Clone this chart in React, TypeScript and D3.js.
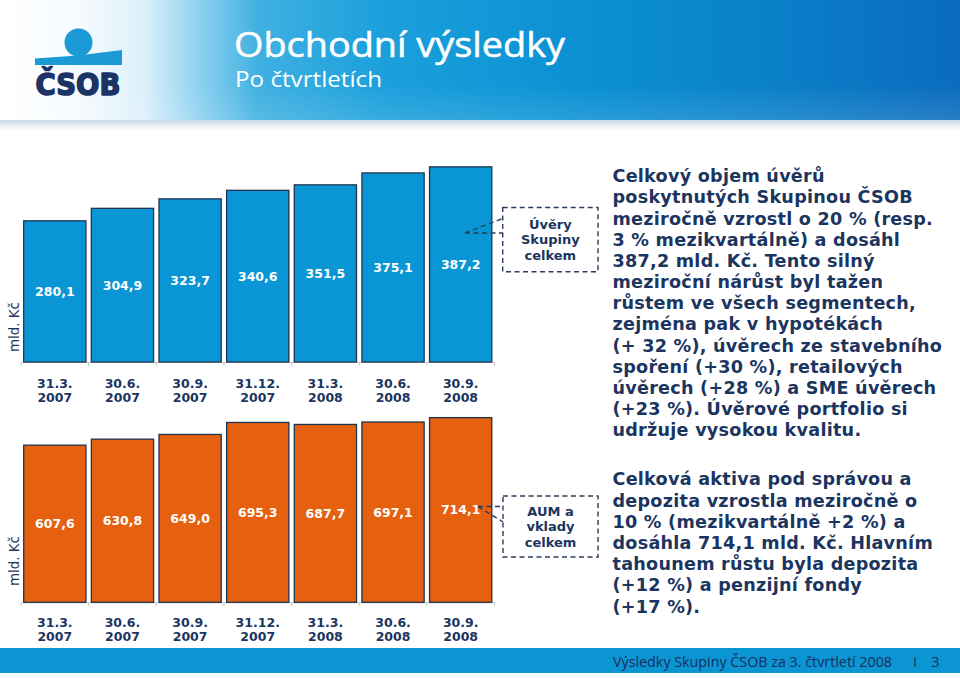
import React from "react";
import * as d3 from "d3";

const categoryDates = ["31.3.", "30.6.", "30.9.", "31.12.", "31.3.", "30.6.", "30.9."];
const categoryYears = ["2007", "2007", "2007", "2007", "2008", "2008", "2008"];
const loans = [280.1, 304.9, 323.7, 340.6, 351.5, 375.1, 387.2];
const aum = [607.6, 630.8, 649.0, 695.3, 687.7, 697.1, 714.1];

const title = "Obchodní výsledky";
const subtitle = "Po čtvrtletích";
const unitLabel = "mld. Kč";
const loansCallout = ["Úvěry", "Skupiny", "celkem"];
const aumCallout = ["AUM a", "vklady", "celkem"];
const loansText = [
  "Celkový objem úvěrů",
  "poskytnutých Skupinou ČSOB",
  "meziročně vzrostl o 20 % (resp.",
  "3 % mezikvartálně) a dosáhl",
  "387,2 mld. Kč. Tento silný",
  "meziroční nárůst byl tažen",
  "růstem ve všech segmentech,",
  "zejména pak v hypotékách",
  "(+ 32 %), úvěrech ze stavebního",
  "spoření (+30 %), retailových",
  "úvěrech (+28 %) a SME úvěrech",
  "(+23 %). Úvěrové portfolio si",
  "udržuje vysokou kvalitu.",
];
const aumText = [
  "Celková aktiva pod správou a",
  "depozita vzrostla meziročně o",
  "10 % (mezikvartálně +2 %) a",
  "dosáhla 714,1 mld. Kč. Hlavním",
  "tahounem růstu byla depozita",
  "(+12 %) a penzijní fondy",
  "(+17 %).",
];
const footerText = "Výsledky Skupiny ČSOB za 3. čtvrtletí 2008";
const pageNumber = "3";

const NAVY = "#1b355f";
const BOLD = "'DejaVu Sans', Verdana, sans-serif";

const czLocale = d3.formatLocale({
  decimal: ",",
  thousands: " ",
  grouping: [3],
  currency: ["", " Kč"],
});
const fmt = czLocale.format(".1f");

const keys = categoryDates.map((d, i) => `${d} ${categoryYears[i]}`);
const x = d3
  .scaleBand<string>()
  .domain(keys)
  .range([21, 494.5])
  .paddingInner(0.08)
  .paddingOuter(0.04);

type PanelProps = {
  values: number[];
  fill: string;
  y: d3.ScaleLinear<number, number>;
  dateBaseline: number;
  unitY: number;
};

function BarPanel({ values, fill, y, dateBaseline, unitY }: PanelProps) {
  const base = y(0);
  const step = x.step();
  const x0 = x.range()[0];
  const ticks = d3.range(keys.length + 1).map((i) => x0 + i * step);
  return (
    <g>
      <line x1={x0} x2={x0 + keys.length * step} y1={base + 0.5} y2={base + 0.5} stroke="#c8c8c8" strokeWidth={1} />
      {ticks.map((t, i) => (
        <line key={i} x1={t} x2={t} y1={base} y2={base + 4} stroke="#c8c8c8" strokeWidth={1} />
      ))}
      {values.map((v, i) => {
        const bx = x(keys[i]) as number;
        const top = y(v);
        return (
          <g key={i}>
            <rect x={bx} y={top} width={x.bandwidth()} height={base - top} fill={fill} stroke="#1f3451" strokeWidth={1.3} />
            <text
              x={bx + x.bandwidth() / 2}
              y={(top + base) / 2 + 4.5}
              textAnchor="middle"
              fill="#ffffff"
              fontFamily={BOLD}
              fontWeight="bold"
              fontSize={12.5}
            >
              {fmt(v)}
            </text>
            <text x={bx + x.bandwidth() / 2} y={dateBaseline} textAnchor="middle" fill={NAVY} fontFamily={BOLD} fontWeight="bold" fontSize={12.5}>
              {categoryDates[i]}
            </text>
            <text x={bx + x.bandwidth() / 2} y={dateBaseline + 14} textAnchor="middle" fill={NAVY} fontFamily={BOLD} fontWeight="bold" fontSize={12.5}>
              {categoryYears[i]}
            </text>
          </g>
        );
      })}
      <text
        transform={`translate(19, ${unitY}) rotate(-90)`}
        textAnchor="middle"
        fill={NAVY}
        fontFamily={BOLD}
        fontSize={13.4}
      >
        {unitLabel}
      </text>
    </g>
  );
}

function Callout({ lines, box, anchor, ends }: { lines: string[]; box: [number, number, number, number]; anchor: [number, number]; ends: number[] }) {
  const [bx, by, bw, bh] = box;
  const cy = by + bh / 2;
  return (
    <g>
      <rect x={bx} y={by} width={bw} height={bh} fill="#ffffff" stroke="#2a3d5c" strokeWidth={1.4} strokeDasharray="5 3.5" />
      {ends.map((ey, i) => (
        <line key={i} x1={anchor[0]} y1={anchor[1]} x2={bx} y2={ey} stroke="#2a3d5c" strokeWidth={1.4} strokeDasharray="5 3.5" />
      ))}
      {lines.map((l, i) => (
        <text
          key={i}
          x={bx + bw / 2}
          y={cy + (i - 1) * 15.7 + 4.7}
          textAnchor="middle"
          fill={NAVY}
          fontFamily={BOLD}
          fontWeight="bold"
          fontSize={13}
        >
          {l}
        </text>
      ))}
    </g>
  );
}

export default function App() {
  const yTop = d3.scaleLinear().domain([0, 400]).range([362, 160.4]);
  const yBottom = d3.scaleLinear().domain([0, 800]).range([602.3, 395.4]);
  return (
    <svg width={960} height={678} style={{ position: "absolute", left: 0, top: 0, background: "#ffffff" }}>
      <defs>
        <linearGradient id="hdr" x1="0" x2="1" y1="0" y2="0">
          <stop offset="0" stopColor="#ffffff" />
          <stop offset="0.08" stopColor="#f6fbfe" />
          <stop offset="0.15" stopColor="#dcf0fa" />
          <stop offset="0.21" stopColor="#8ad0ef" />
          <stop offset="0.27" stopColor="#3fb0e1" />
          <stop offset="0.4" stopColor="#1ba0dc" />
          <stop offset="0.6" stopColor="#0b91d3" />
          <stop offset="0.8" stopColor="#0a80c9" />
          <stop offset="1" stopColor="#0a6cbd" />
        </linearGradient>
        <linearGradient id="hdrV" x1="0" x2="0" y1="0" y2="1">
          <stop offset="0" stopColor="#ffffff" stopOpacity={0} />
          <stop offset="0.7" stopColor="#ffffff" stopOpacity={0} />
          <stop offset="1" stopColor="#ffffff" stopOpacity={0.12} />
        </linearGradient>
        <linearGradient id="shadow" x1="0" x2="0" y1="0" y2="1">
          <stop offset="0" stopColor="#c9dbe6" />
          <stop offset="1" stopColor="#ffffff" />
        </linearGradient>
      </defs>
      <rect x={0} y={0} width={960} height={678} fill="#ffffff" />
      {/* header */}
      <rect x={0} y={120} width={960} height={10} fill="url(#shadow)" />
      <rect x={0} y={0} width={960} height={120} fill="url(#hdr)" />
      <rect x={0} y={0} width={960} height={120} fill="url(#hdrV)" />
      {/* logo */}
      <path d="M35,58.5 L78,55.5 L122,50 L122,65 L35,65 Z" fill="#1b9ad6" />
      <circle cx={78.5} cy={42.5} r={14} fill="#1b9ad6" />
      <text
        x={35.5}
        y={95}
        fill="#1b3465"
        stroke="#1b3465"
        strokeWidth={1.6}
        strokeLinejoin="round"
        fontFamily={BOLD}
        fontWeight="bold"
        fontSize={30}
        textLength={85}
        lengthAdjust="spacingAndGlyphs"
      >
        ČSOB
      </text>
      <text
        x={234}
        y={56.5}
        fill="#ffffff"
        stroke="#ffffff"
        strokeWidth={0.5}
        fontFamily="'Open Sans', sans-serif"
        fontSize={35}
        textLength={331}
        lengthAdjust="spacingAndGlyphs"
      >
        {title}
      </text>
      <text x={235} y={86.5} fill="#ffffff" fontFamily="'Open Sans', sans-serif" fontSize={22} textLength={147} lengthAdjust="spacingAndGlyphs">
        {subtitle}
      </text>

      <BarPanel values={loans} fill="#0a96d4" y={yTop} dateBaseline={387.5} unitY={327} />
      <BarPanel values={aum} fill="#e5600f" y={yBottom} dateBaseline={626.8} unitY={561} />

      <Callout lines={loansCallout} box={[502.7, 207.5, 95.3, 64.2]} anchor={[465, 233]} ends={[218.5, 233]} />
      <Callout lines={aumCallout} box={[503, 496, 95, 61]} anchor={[478, 506.5]} ends={[506.5, 522]} />

      {loansText.map((l, i) => (
        <text key={i} x={612.5} y={182.2 + i * 21.17} fill={NAVY} fontFamily={BOLD} fontWeight="bold" fontSize={17.6} letterSpacing={0.25}>
          {l}
        </text>
      ))}
      {aumText.map((l, i) => (
        <text key={i} x={612.5} y={485.3 + i * 21.2} fill={NAVY} fontFamily={BOLD} fontWeight="bold" fontSize={17.6} letterSpacing={0.25}>
          {l}
        </text>
      ))}

      {/* footer */}
      <rect x={0} y={648} width={960} height={25} fill="#0b95d3" />
      <text x={613} y={666.5} fill="#1b2e5a" fontFamily="'Open Sans', sans-serif" fontSize={14.5} textLength={279} lengthAdjust="spacingAndGlyphs">
        {footerText}
      </text>
      <text x={915} y={666.5} fill="#1b2e5a" fontFamily="'Open Sans', sans-serif" fontSize={14.5} textAnchor="middle">
        I
      </text>
      <text x={935.5} y={666.5} fill="#1b2e5a" fontFamily="'Open Sans', sans-serif" fontSize={14.5} textAnchor="middle">
        {pageNumber}
      </text>
    </svg>
  );
}
